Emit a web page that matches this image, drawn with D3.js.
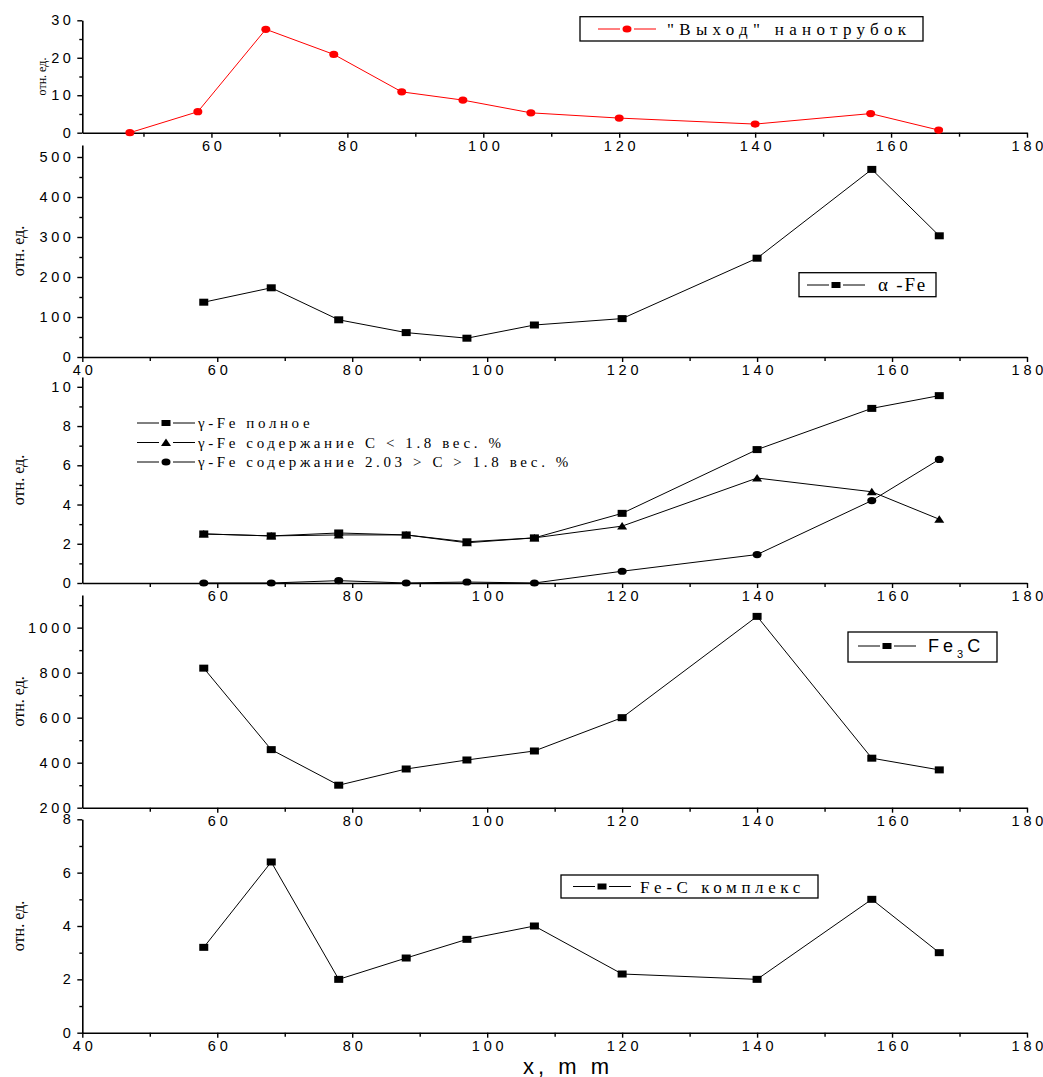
<!DOCTYPE html>
<html><head><meta charset="utf-8">
<script src="https://cdn.jsdelivr.net/npm/d3@7"></script>
<style>
body{margin:0;background:#fff;}
svg text{font-family:"Liberation Sans",Arial,sans-serif;}
.serif{font-family:"Liberation Serif","Times New Roman",serif !important;}
</style></head>
<body>
<svg id="c" width="1043" height="1077"></svg>
<script>
const xPos = [58, 68, 78, 88, 97, 107, 120, 140, 157, 167];
const xYield = [48, 58, 68, 78, 88, 97, 107, 120, 140, 157, 167];
const yieldVals = [0, 5.6, 27.6, 20.9, 10.9, 8.7, 5.3, 3.9, 2.3, 5.1, 0.7];
const alphaFe = [137, 173, 93, 61, 47, 80, 96, 247, 469, 303];
const gammaTotal = [2.5, 2.4, 2.55, 2.45, 2.1, 2.3, 3.55, 6.8, 8.9, 9.55];
const gammaLow = [2.5, 2.4, 2.45, 2.45, 2.05, 2.3, 2.9, 5.35, 4.65, 3.25];
const gammaHigh = [0, 0, 0.12, 0, 0.05, 0, 0.6, 1.45, 4.2, 6.3];
const fe3c = [820, 458, 300, 372, 412, 452, 600, 1050, 420, 368];
const feC = [3.2, 6.4, 2.0, 2.8, 3.5, 4.0, 2.2, 2.0, 5.0, 3.0];
const xTicks = [40, 60, 80, 100, 120, 140, 160, 180];
const xTicksNo40 = [60, 80, 100, 120, 140, 160, 180];

const svg = d3.select("#c");
const X0 = 82.3, X1 = 1027;

function axisStyle(g, ls){
  g.selectAll("path.domain").attr("stroke","#000").attr("stroke-width",1.6);
  g.selectAll("line").attr("stroke","#000").attr("stroke-width",1.4);
  g.selectAll("text").attr("fill","#000").attr("font-size","14.5px")
    .attr("letter-spacing", ls+"px").style("font-size","14.5px").style("letter-spacing", ls+"px");
}

function panel(o){
  const x = d3.scaleLinear().domain(o.xdom||[40,180]).range([X0, X1]);
  const y = d3.scaleLinear().domain(o.ydom).range([o.yb, o.yt]);
  const gx = svg.append("g").attr("transform",`translate(0,${o.yb})`);
  gx.call(d3.axisBottom(x).tickValues(d3.range(50,180,20)).tickSize(4).tickFormat(""));
  gx.call(g=>g.selectAll("path.domain").remove());
  const gx2 = svg.append("g").attr("transform",`translate(0,${o.yb})`);
  gx2.call(d3.axisBottom(x).tickValues(o.xt).tickSize(5).tickPadding(3).tickSizeOuter(0).tickFormat(d3.format("d")));
  axisStyle(gx, 3.8); axisStyle(gx2, 3.8);
  gx2.selectAll("text").attr("dx","1.9px");
  const gy = svg.append("g").attr("transform",`translate(${X0},0)`);
  gy.call(d3.axisLeft(y).tickValues(o.ymin).tickSize(3).tickFormat(""));
  gy.call(g=>g.selectAll("path.domain").remove());
  const gy2 = svg.append("g").attr("transform",`translate(${X0},0)`);
  gy2.call(d3.axisLeft(y).tickValues(o.yt2).tickSize(5).tickPadding(3).tickSizeOuter(0).tickFormat(d3.format("d")));
  axisStyle(gy, 3.5); axisStyle(gy2, 3.5);
  svg.append("text").attr("class","serif")
    .attr("transform",`translate(${o.ylx},${(o.yb+o.yt)/2}) rotate(-90)`)
    .attr("text-anchor","middle").style("font-size",(o.yls||16)+"px").text("отн. ед.");
  return {x,y};
}

function drawLine(s, xs, vals, color){
  const line = d3.line().x((d,i)=>s.x(xs[i])).y(d=>s.y(d));
  svg.append("path").datum(vals).attr("d",line).attr("fill","none").attr("stroke",color).attr("stroke-width",1);
}
function squares(s, xs, vals){
  svg.append("g").selectAll("rect").data(vals).join("rect")
    .attr("x",(d,i)=>s.x(xs[i])-4.5).attr("y",d=>s.y(d)-3.5).attr("width",9).attr("height",7).attr("fill","#000");
}
function circles(s, xs, vals, color){
  svg.append("g").selectAll("ellipse").data(vals).join("ellipse")
    .attr("cx",(d,i)=>s.x(xs[i])).attr("cy",d=>s.y(d)).attr("rx",4.5).attr("ry",3.6).attr("fill",color);
}
function triangles(s, xs, vals){
  svg.append("g").selectAll("path").data(vals).join("path")
    .attr("d",(d,i)=>{const cx=s.x(xs[i]), cy=s.y(d); return `M${cx-5},${cy+3.5}L${cx+5},${cy+3.5}L${cx},${cy-4}Z`;})
    .attr("fill","#000");
}

const p1 = panel({xdom:[41,180], ydom:[0,30], yb:132.7, yt:20.3, xt:xTicksNo40, ymin:[5,15,25], yt2:[0,10,20,30], ylx:46, yls:12});
drawLine(p1, xYield, yieldVals, "#ff0000");
circles(p1, xYield, yieldVals, "#ff0000");

const p2 = panel({ydom:[0,530], yb:357, yt:145, xt:xTicks, ymin:[50,150,250,350,450], yt2:[0,100,200,300,400,500], ylx:24});
drawLine(p2, xPos, alphaFe, "#000");
squares(p2, xPos, alphaFe);

const p3 = panel({ydom:[0,10.5], yb:583, yt:377, xt:xTicksNo40, ymin:[1,3,5,7,9], yt2:[0,2,4,6,8,10], ylx:24});
drawLine(p3, xPos, gammaTotal, "#000");
drawLine(p3, xPos, gammaLow, "#000");
drawLine(p3, xPos, gammaHigh, "#000");
squares(p3, xPos, gammaTotal);
triangles(p3, xPos, gammaLow);
circles(p3, xPos, gammaHigh, "#000");

const p4 = panel({ydom:[200,1145], yb:807.7, yt:595, xt:xTicksNo40, ymin:[300,500,700,900,1100], yt2:[200,400,600,800,1000], ylx:24});
drawLine(p4, xPos, fe3c, "#000");
squares(p4, xPos, fe3c);

const p5 = panel({ydom:[0,8], yb:1032.7, yt:819.3, xt:xTicks, ymin:[1,3,5,7], yt2:[0,2,4,6,8], ylx:24});
drawLine(p5, xPos, feC, "#000");
squares(p5, xPos, feC);

svg.append("text").attr("x",523).attr("y",1074)
  .attr("letter-spacing","4px").style("font-size","22px").style("letter-spacing","4px").text("x, m m");

function legendBox(x,y,w,h){
  svg.append("rect").attr("x",x).attr("y",y).attr("width",w).attr("height",h).attr("fill","#fff").attr("stroke","#000").attr("stroke-width",1.3);
}
function legendSym(x,y,color,type){
  svg.append("line").attr("x1",x).attr("x2",x+22).attr("y1",y).attr("y2",y).attr("stroke",color).attr("stroke-width",1);
  svg.append("line").attr("x1",x+36).attr("x2",x+58).attr("y1",y).attr("y2",y).attr("stroke",color).attr("stroke-width",1);
  if(type==="c") svg.append("ellipse").attr("cx",x+29).attr("cy",y).attr("rx",4.5).attr("ry",3.6).attr("fill",color);
  else if(type==="t") svg.append("path").attr("d",`M${x+24},${y+3.5}L${x+34},${y+3.5}L${x+29},${y-4}Z`).attr("fill",color);
  else svg.append("rect").attr("x",x+24.5).attr("y",y-3).attr("width",9).attr("height",6).attr("fill",color);
}
function ltext(x,y,size,ls,txt,serif){
  return svg.append("text").attr("class",serif?"serif":null).attr("x",x).attr("y",y)
    .attr("letter-spacing",ls+"px").style("font-size",size+"px").style("letter-spacing",ls+"px").text(txt);
}
legendBox(580,16.7,343,24.3);
legendSym(598,29,"#ff0000","c");
ltext(667,35,17,5.3,"\"Выход\" нанотрубок",true);

legendBox(799,272.7,137,24);
legendSym(807,285,"#000","s");
ltext(878,291,19,1.8,"α -Fe",true);

const gRows = [{t:"γ-Fe полное",s:"s"},{t:"γ-Fe содержание С < 1.8 вес. %",s:"t"},{t:"γ-Fe содержание 2.03 > С > 1.8 вес. %",s:"c"}];
gRows.forEach((r,i)=>{
  const yy = 423 + i*19.5;
  legendSym(137,yy,"#000",r.s);
  ltext(198,yy+5,15,3.6,r.t,true);
});

legendBox(848,632,149,30);
legendSym(858,646,"#000","s");
const t3 = svg.append("text").attr("x",928).attr("y",652).attr("letter-spacing","4px").style("font-size","18px").style("letter-spacing","4px");
t3.append("tspan").text("Fe");
t3.append("tspan").attr("dy",6).style("font-size","11px").text("3");
t3.append("tspan").attr("dy",-6).text("C");

legendBox(561,875,257,23);
legendSym(573,886.5,"#000","s");
ltext(640,893,17,4.6,"Fe-C комплекс",true);
</script>
</body></html>
